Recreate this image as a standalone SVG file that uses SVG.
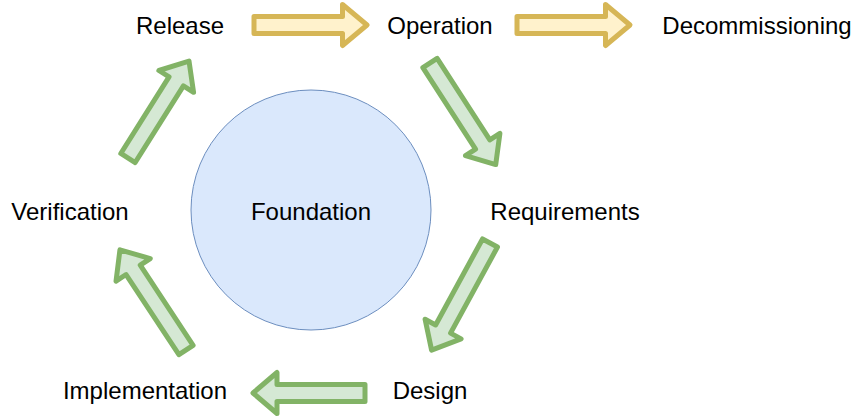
<svg xmlns="http://www.w3.org/2000/svg" width="863" height="420" viewBox="0 0 863 420">
<style>
.lbl{font-family:"Liberation Sans",Arial,sans-serif;font-size:24px;fill:#000;text-anchor:middle;dominant-baseline:central}
.g{fill:#d5e8d4;stroke:#82b366;stroke-width:5;stroke-linejoin:round}
.y{fill:#fff2cc;stroke:#d6b656;stroke-width:5;stroke-linejoin:round}
</style>
<rect width="863" height="420" fill="#fff"/>
<g id="foundation">
<circle cx="311" cy="210" r="120" fill="#dae8fc" stroke="#6c8ebf" stroke-width="1"/>
<text class="lbl" x="311" y="211">Foundation</text>
</g>
<g id="connectors">
<path class="y" transform="translate(254,25)" d="M0,-8.5 L88.5,-8.5 L88.5,-20.5 L113,0 L88.5,20.5 L88.5,8.5 L0,8.5 Z"/>
<path class="y" transform="translate(517,25)" d="M0,-8.5 L88.5,-8.5 L88.5,-20.5 L113,0 L88.5,20.5 L88.5,8.5 L0,8.5 Z"/>
<path class="g" transform="translate(430,63) rotate(57.1)" d="M0,-8.5 L97,-8.5 L97,-20.5 L121,0 L97,20.5 L97,8.5 L0,8.5 Z"/>
<path class="g" transform="translate(490,243) rotate(118.6)" d="M0,-8.5 L98,-8.5 L98,-20.5 L122,0 L98,20.5 L98,8.5 L0,8.5 Z"/>
<path class="g" transform="translate(365,393) rotate(180)" d="M0,-8.5 L88,-8.5 L88,-20.5 L112,0 L88,20.5 L88,8.5 L0,8.5 Z"/>
<path class="g" transform="translate(186,350) rotate(-123.4)" d="M0,-8.5 L96,-8.5 L96,-20.5 L120,0 L96,20.5 L96,8.5 L0,8.5 Z"/>
<path class="g" transform="translate(128,158) rotate(-57.8)" d="M0,-8.5 L90.5,-8.5 L90.5,-20.5 L114.5,0 L90.5,20.5 L90.5,8.5 L0,8.5 Z"/>
</g>
<g id="release"><text class="lbl" x="180" y="25">Release</text></g>
<g id="operation"><text class="lbl" x="440" y="25">Operation</text></g>
<g id="decommissioning"><text class="lbl" x="757" y="25">Decommissioning</text></g>
<g id="requirements"><text class="lbl" x="565" y="211">Requirements</text></g>
<g id="design"><text class="lbl" x="430" y="390">Design</text></g>
<g id="implementation"><text class="lbl" x="145" y="390">Implementation</text></g>
<g id="verification"><text class="lbl" x="70" y="211">Verification</text></g>
</svg>
